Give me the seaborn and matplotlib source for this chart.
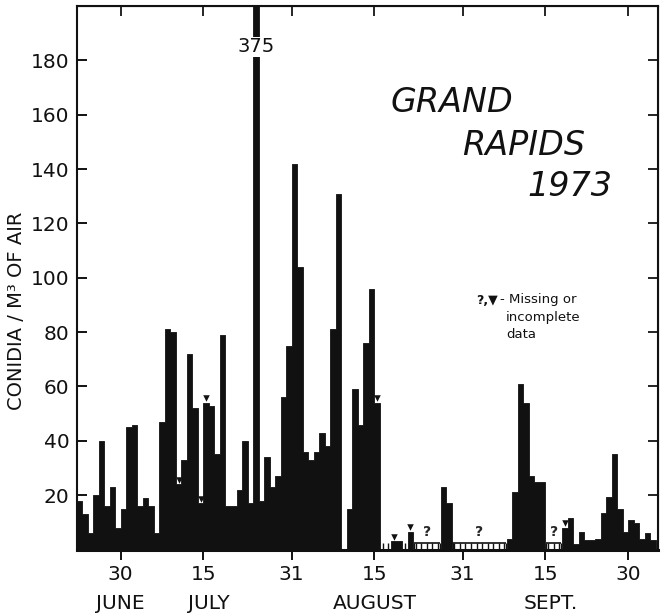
import numpy as np
import pandas as pd
import matplotlib
matplotlib.use("Agg")
import matplotlib.pyplot as plt
from matplotlib import transforms
import seaborn as sns

# ---------------- data ----------------
start_date = "1973-06-22"
# daily conidia / m3 of air (None = missing)
conidia = [18, 13, 6, 20, 40, 16, 23, 8, 15, 45,
           46, 16, 19, 16, 6, 47, 81, 80, 24, 33,
           72, 52, 17, 54, 53, 35, 79, 16, 16, 22,
           40, 17, 375, 18, 34, 23, 27, 56, 75, 142,
           104, 36, 33, 36, 43, 38, 81, 131, 0, 15,
           59, 46, 76, 96, 54, None, None, 3, 3, None,
           6.5, None, None, None, None, None, 23, 17, None, None,
           None, None, None, None, None, None, None, None, 4, 21,
           61, 54, 27, 25, 25, None, None, None, 8, 11.5,
           2, 6.5, 3.5, 3.5, 4, 13.5, 19.5, 35, 15, 6.5,
           11, 9.6, 4, 6, 3.5]
incomplete_days = [18, 22, 23, 54, 57, 60, 88]
tick_dates = ["1973-06-30", "1973-07-15", "1973-07-31", "1973-08-15",
              "1973-08-31", "1973-09-15", "1973-09-30"]
tick_labels = ["30", "15", "31", "15", "31", "15", "30"]
month_labels = ["JUNE", "JULY", "AUGUST", "SEPT."]
month_dates = ["1973-06-30", "1973-07-16", "1973-08-15", "1973-09-16"]
y_ticks = [20, 40, 60, 80, 100, 120, 140, 160, 180]

# ---------------- derived ----------------
t0 = pd.Timestamp(start_date)
day = np.arange(len(conidia))
val = np.array([np.nan if v is None else v for v in conidia], dtype=float)
df = pd.DataFrame({"day": day, "conidia": val})
present = df.dropna().copy()
present["mid"] = present["day"] + 0.5
tick_pos = [(pd.Timestamp(d) - t0).days for d in tick_dates]
month_pos = [(pd.Timestamp(d) - t0).days for d in month_dates]

sns.set_style("ticks")
plt.rcParams["font.family"] = ["DejaVu Sans"]

fig = plt.figure(figsize=(6.62, 6.15), dpi=100)
ax = fig.add_axes([0.1156, 0.1065, 0.994 - 0.1156, 0.990 - 0.1065])

YMAX = 200
sns.histplot(data=present, x="mid", weights="conidia",
             binwidth=1, binrange=(0, len(conidia)), element="step", fill=True,
             color="#111111", alpha=1, linewidth=0.6, ax=ax)

# incomplete-data markers
inc = df[df["day"].isin(incomplete_days)].copy()
inc["mx"] = inc["day"] + 0.5
inc["my"] = inc["conidia"] + 1.6
sns.scatterplot(data=inc, x="mx", y="my", marker="v", color="#111111",
                s=22, linewidth=0, ax=ax, zorder=5)

# missing-data combs and "?" lines
miss = df[df["conidia"].isna()]["day"].to_list()
runs = []
for d in miss:
    if runs and d == runs[-1][-1] + 1:
        runs[-1].append(d)
    else:
        runs.append([d])
comb_h = 2.5
for r in runs:
    if len(r) >= 3:
        ax.hlines(comb_h, r[0] + 0.1, r[-1] + 0.9, color="#111111", lw=1.2)
        xs = np.arange(r[0], r[-1] + 1) + 0.5
        ax.vlines(xs, 0, comb_h, color="#111111", lw=1.0)
        ax.vlines([r[0] + 0.15, r[-1] + 0.85], 0, comb_h, color="#111111", lw=1.0)
        ax.text((r[0] + r[-1] + 1) / 2, comb_h + 1.2, "?", ha="center",
                va="bottom", fontsize=10, fontweight="bold")
    else:
        ax.vlines(np.arange(r[0], r[-1] + 1) + 0.5, 0, comb_h,
                  color="#111111", lw=1.0)

# clipped spike label
spike = df.loc[df["conidia"].idxmax()]
ax.text(spike["day"] + 0.5, 185, f"{int(spike['conidia'])}", ha="center",
        va="center", fontsize=14, color="#111111",
        bbox=dict(facecolor="white", edgecolor="none", pad=0.5))

# axes setup
ax.set_xlim(0, 105.4)
ax.set_ylim(0, YMAX)
ax.set_yticks(y_ticks)
ax.set_yticklabels([str(v) for v in y_ticks], fontsize=14.5)
ax.set_xticks(tick_pos)
ax.set_xticklabels(tick_labels, fontsize=14.5)
ax.tick_params(axis="y", direction="in", length=7, width=1.4, pad=5,
               colors="#111111")
ax.tick_params(axis="x", direction="out", length=7, width=1.4, pad=4,
               colors="#111111")
for s in ax.spines.values():
    s.set_visible(True)
    s.set_linewidth(1.5)
    s.set_color("#111111")
ax.spines["bottom"].set_linewidth(2.2)

top = ax.secondary_xaxis("top")
top.set_xticks(tick_pos)
top.tick_params(direction="in", length=7, width=1.4, labeltop=False)
right = ax.secondary_yaxis("right")
right.set_yticks(y_ticks)
right.tick_params(direction="in", length=7, width=1.4, labelright=False)

ax.set_xlabel("")
ax.set_ylabel("CONIDIA / M³ OF AIR", fontsize=14, color="#111111")
ax.yaxis.set_label_coords(-0.087, 0.44)

trans = transforms.blended_transform_factory(ax.transData, ax.transAxes)
for lab, pos in zip(month_labels, month_pos):
    ax.text(pos, -0.100, lab, transform=trans, ha="center", va="center",
            fontsize=14.5, color="#111111")

# title block
fig.text(390 / 662, 1 - 103 / 615, "GRAND", fontsize=24, style="italic",
         ha="left", va="center", color="#111111")
fig.text(462 / 662, 1 - 145 / 615, "RAPIDS", fontsize=24, style="italic",
         ha="left", va="center", color="#111111")
fig.text(527 / 662, 1 - 187 / 615, "1973", fontsize=24, style="italic",
         ha="left", va="center", color="#111111")

# note
fig.text(476 / 662, 1 - 300 / 615, "?,▼", fontsize=9, fontweight="bold",
         ha="left", va="center", color="#111111")
fig.text(500 / 662, 1 - 300 / 615, "- Missing or", fontsize=9.5,
         ha="left", va="center", color="#111111")
fig.text(506 / 662, 1 - 318 / 615, "incomplete", fontsize=9.5,
         ha="left", va="center", color="#111111")
fig.text(506 / 662, 1 - 335 / 615, "data", fontsize=9.5,
         ha="left", va="center", color="#111111")

fig.savefig("out.png", dpi=100)
